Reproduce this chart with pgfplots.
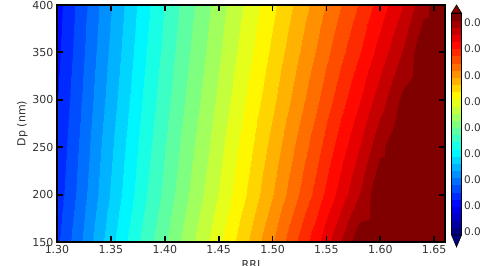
\documentclass[border=0pt]{standalone}
\usepackage{pgfplots}
\pgfplotsset{compat=1.18}
\usepackage{pgfplotstable}
\usepackage{fontspec}
\setmainfont{DejaVu Sans}
\pgfplotsset{colormap/jet, colormap={jetbands}{samples of colormap=(31 of jet)}}
\pgfplotstableread{
x y z
1.30 150 0.170
1.32 150 0.233
1.34 150 0.296
1.36 150 0.358
1.38 150 0.412
1.40 150 0.463
1.42 150 0.513
1.44 150 0.563
1.46 150 0.613
1.48 150 0.668
1.50 150 0.725
1.52 150 0.783
1.54 150 0.843
1.56 150 0.908
1.58 150 0.975
1.60 150 1.045
1.62 150 1.115
1.64 150 1.185
1.66 150 1.255
1.30 200 0.158
1.32 200 0.219
1.34 200 0.280
1.36 200 0.340
1.38 200 0.394
1.40 200 0.445
1.42 200 0.494
1.44 200 0.542
1.46 200 0.589
1.48 200 0.640
1.50 200 0.693
1.52 200 0.746
1.54 200 0.801
1.56 200 0.859
1.58 200 0.918
1.60 200 0.981
1.62 200 1.043
1.64 200 1.109
1.66 200 1.176
1.30 250 0.150
1.32 250 0.211
1.34 250 0.271
1.36 250 0.330
1.38 250 0.384
1.40 250 0.434
1.42 250 0.482
1.44 250 0.529
1.46 250 0.576
1.48 250 0.624
1.50 250 0.674
1.52 250 0.724
1.54 250 0.776
1.56 250 0.830
1.58 250 0.885
1.60 250 0.943
1.62 250 1.002
1.64 250 1.065
1.66 250 1.130
1.30 300 0.143
1.32 300 0.202
1.34 300 0.261
1.36 300 0.319
1.38 300 0.373
1.40 300 0.423
1.42 300 0.470
1.44 300 0.516
1.46 300 0.561
1.48 300 0.608
1.50 300 0.654
1.52 300 0.701
1.54 300 0.750
1.56 300 0.800
1.58 300 0.851
1.60 300 0.904
1.62 300 0.958
1.64 300 1.018
1.66 300 1.082
1.30 350 0.136
1.32 350 0.194
1.34 350 0.252
1.36 350 0.309
1.38 350 0.363
1.40 350 0.413
1.42 350 0.459
1.44 350 0.504
1.46 350 0.548
1.48 350 0.592
1.50 350 0.637
1.52 350 0.681
1.54 350 0.727
1.56 350 0.773
1.58 350 0.819
1.60 350 0.868
1.62 350 0.919
1.64 350 0.977
1.66 350 1.038
1.30 400 0.130
1.32 400 0.187
1.34 400 0.244
1.36 400 0.300
1.38 400 0.354
1.40 400 0.404
1.42 400 0.450
1.44 400 0.494
1.46 400 0.537
1.48 400 0.579
1.50 400 0.621
1.52 400 0.663
1.54 400 0.706
1.56 400 0.749
1.58 400 0.792
1.60 400 0.837
1.62 400 0.884
1.64 400 0.940
1.66 400 1.000
}\datatable
\begin{document}
\begin{tikzpicture}
\begin{axis}[
  name=ax,
  scale only axis,
  width=388pt, height=237pt,
  xmin=1.30, xmax=1.66, ymin=150, ymax=400,
  enlargelimits=false,
  axis on top,
  colormap name=jetbands,
  colormap access=piecewise constant,
  point meta min=-0.0167, point meta max=0.9833,
  xtick={1.30,1.35,...,1.66},
  ytick={150,200,...,400},
  xticklabel style={/pgf/number format/.cd, fixed, fixed zerofill, precision=2},
  /pgf/number format/assume math mode=true,
  ticklabel style={font=\fontsize{11}{13}\selectfont, text=black!80},
  tick align=inside,
  xtick pos=both, ytick pos=both,
  major tick length=6pt,
  every tick/.append style={black, line width=1.8pt},
  axis line style={line width=2.6pt, black},
  xlabel={RRI}, ylabel={Dp (nm)},
  label style={font=\fontsize{11}{13}\selectfont, text=black!80},
  ylabel style={yshift=-2pt},
  colorbar,
  colorbar style={
    at={(parent axis.north east)}, anchor=north west,
    xshift=-2pt, yshift=-8pt,
    scale only axis,
    width=10pt, height=222pt,
    ytick={-0.0032,0.1145,0.2322,0.3499,0.4676,0.5853,0.7030,0.8207,0.9384},
    yticklabels={0.0,0.0,0.0,0.0,0.0,0.0,0.0,0.0,0.0},
    yticklabel style={font=\fontsize{10.5}{12}\selectfont, text=black!80, xshift=-1pt},
    major tick length=0pt,
    axis line style={line width=0.6pt},
    extra description/.code={
      \filldraw[fill={rgb,1:red,0.5;green,0;blue,0}, draw=black, line width=0.6pt]
        (axis description cs:0,1) -- (axis description cs:0.5,1.036) -- (axis description cs:1,1) -- cycle;
      \filldraw[fill={rgb,1:red,0;green,0;blue,0.5}, draw=black, line width=0.6pt]
        (axis description cs:0,0) -- (axis description cs:0.5,-0.054) -- (axis description cs:1,0) -- cycle;
    },
  },
]
\addplot[surf, shader=interp, mesh/cols=19, point meta=\thisrow{z}] table[x=x, y=y] {\datatable};
\end{axis}
\pgfresetboundingbox
\path[use as bounding box] ([xshift=-57pt,yshift=-23pt]ax.south west) rectangle ([xshift=36pt,yshift=5pt]ax.north east);
\end{tikzpicture}
\end{document}
